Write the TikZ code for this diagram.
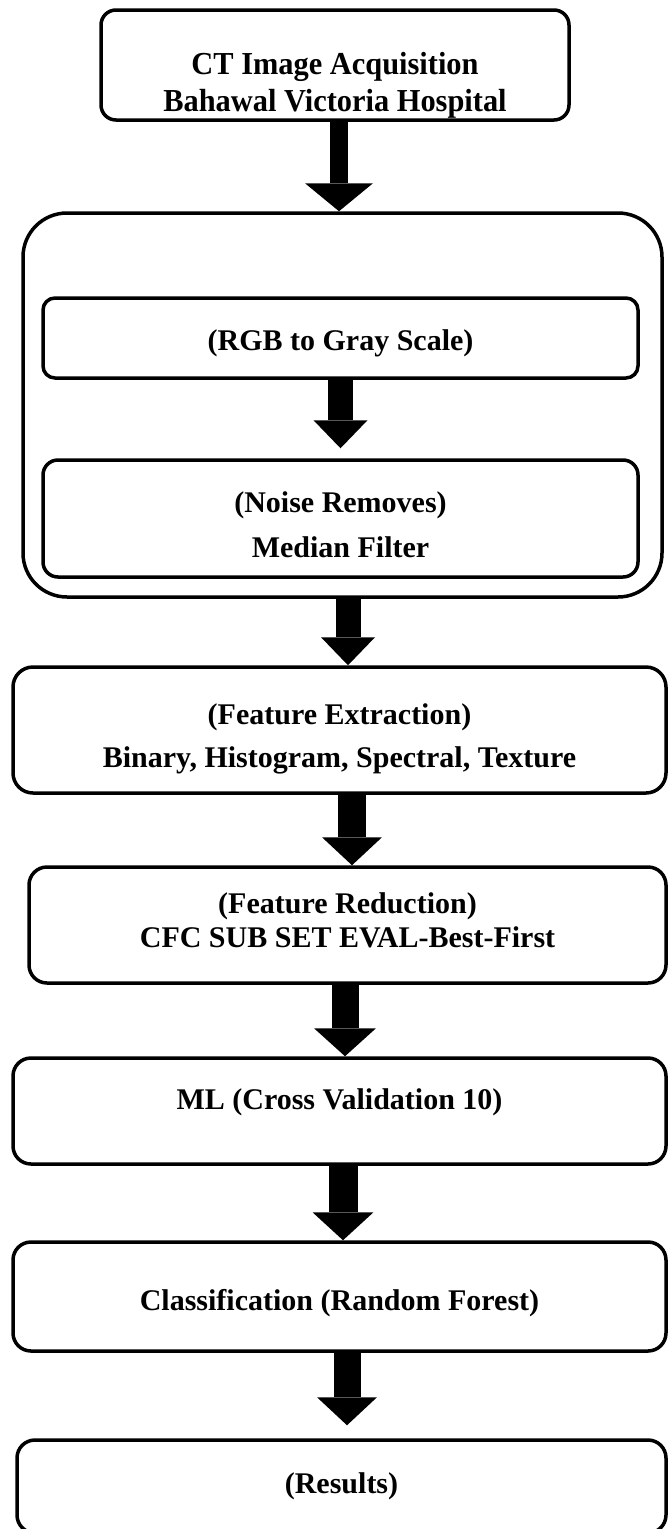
\documentclass[tikz,border=0pt]{standalone}
\usepackage{fontspec}
\setmainfont{Liberation Serif}
\newfontfamily\tallserif{Liberation Serif}[FakeStretch=0.95]
\usetikzlibrary{arrows.meta,positioning}

\begin{document}
\begin{tikzpicture}[
    x=1pt, y=-1pt,
    stepbox/.style={draw, line width=3.5pt, rounded corners=18pt, inner sep=0pt,
        align=center, font=\bfseries\fontsize{30}{36}\selectfont},
    groupbox/.style={draw, line width=3.5pt, rounded corners=44pt, inner sep=0pt}
]
    \useasboundingbox (0,0) rectangle (669,1529);
    \clip (0,0) rectangle (669,1529);

    % Acquisition
    \node[stepbox, rounded corners=15pt, minimum width=468pt, minimum height=110pt,
        font=\tallserif\bfseries\fontsize{32}{37}\selectfont] (acq) at (335,65)
        {\rule{0pt}{62pt}CT Image Acquisition\\Bahawal Victoria Hospital};

    % Preprocessing group
    \node[groupbox, minimum width=639pt, minimum height=384pt] (pre) at (342.5,405) {};
    \node[stepbox, rounded corners=12pt, minimum width=595pt, minimum height=80pt,
        text height=31pt, text depth=7pt] (gray) at (340.5,338) {(RGB to Gray Scale)};
    \node[stepbox, rounded corners=15pt, minimum width=595pt, minimum height=117pt] (noise) at (340.5,518.5)
        {\rule{0pt}{33pt}(Noise Removes)\\[9pt]Median Filter};

    % Main steps
    \node[stepbox, rounded corners=20pt, minimum width=653pt, minimum height=126pt] (extract) at (339.5,730)
        {\rule{0pt}{39.5pt}(Feature Extraction)\\[7pt]Binary, Histogram, Spectral, Texture};
    \node[stepbox, minimum width=637pt, minimum height=116pt] (reduce) at (347.5,925)
        {(Feature Reduction)\\[-2pt]CFC SUB SET EVAL-Best-First\rule[-10pt]{0pt}{10pt}};
    \node[stepbox, minimum width=653pt, minimum height=106pt,
        text height=21pt, text depth=25pt] (ml) at (339.5,1111) {ML (Cross Validation 10)};
    \node[stepbox, minimum width=653pt, minimum height=109pt,
        text height=34pt, text depth=7pt] (classify) at (339.5,1296.5) {Classification (Random Forest)};
    \node[stepbox, minimum width=649pt, minimum height=93pt] (results) at (341.5,1486.5) {(Results)};

    % Block arrows
    \foreach \a/\b/\dx/\w/\hw/\gap in {acq/pre/4/18/68/0, gray/noise/0/25/54/10, pre/extract/5.5/25/54/0,
        extract/reduce/12.5/28/60/0, reduce/ml/-2.5/27/62/0, ml/classify/3.5/29/61/0, classify/results/7.5/27/60/13}
        \draw[line width=\w pt, -{Triangle[width=\hw pt, length=28pt, line width=0pt]}, shorten >=\gap pt]
            ([xshift=\dx pt]\a.south) -- ([xshift=\dx pt]\a.south |- \b.north);
\end{tikzpicture}
\end{document}
